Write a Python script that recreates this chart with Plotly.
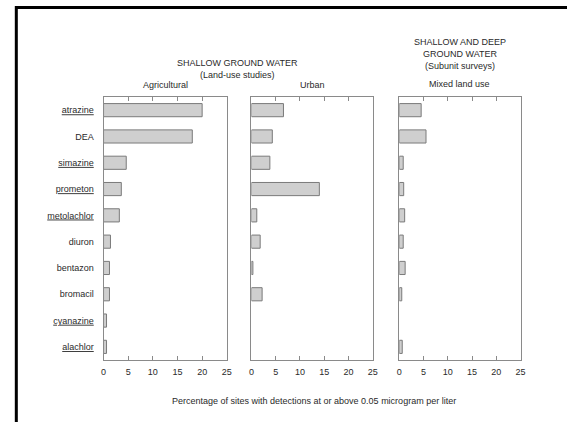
import plotly.graph_objects as go

W, H = 567, 422

categories = ["atrazine", "DEA", "simazine", "prometon", "metolachlor",
              "diuron", "bentazon", "bromacil", "cyanazine", "alachlor"]
underlined = [True, False, True, True, True, False, False, False, True, True]
agricultural = [20.0, 18.0, 4.6, 3.6, 3.2, 1.4, 1.2, 1.2, 0.6, 0.6]
urban = [6.6, 4.3, 3.8, 14.0, 1.1, 1.8, 0.3, 2.2, 0.0, 0.0]
mixed = [4.5, 5.5, 0.8, 0.9, 1.1, 0.8, 1.2, 0.5, 0.0, 0.6]
x_ticks = [0, 5, 10, 15, 20, 25]

tick_text = [f"<u>{c}</u>" if u else c for c, u in zip(categories, underlined)]

FONT = "Liberation Sans, Arial, sans-serif"
TEXT = "#2a2a2a"
AXIS_GRAY = "#8a8a8a"
BAR_FILL = "#cfcfcf"
BAR_LINE = "#7a7a7a"

def px_x(p):
    return p / W

def px_y(p):
    return 1 - p / H

domains = [(102, 227), (252, 375), (402, 525)]
ydom = [px_y(360), px_y(97)]

fig = go.Figure()
series = [agricultural, urban, mixed]
for i, vals in enumerate(series):
    suffix = "" if i == 0 else str(i + 1)
    shown = [v if v > 0 else None for v in vals]
    fig.add_trace(go.Bar(
        x=shown, y=categories, orientation="h", width=0.5,
        marker=dict(color=BAR_FILL, line=dict(color=BAR_LINE, width=1)),
        xaxis="x" + suffix, yaxis="y" + suffix, showlegend=False,
        hoverinfo="x+y",
    ))

layout = dict(
    width=W, height=H,
    margin=dict(l=0, r=0, t=0, b=0),
    paper_bgcolor="white", plot_bgcolor="white",
    font=dict(family=FONT, size=9, color=TEXT),
)
for i, (a, b) in enumerate(domains):
    suffix = "" if i == 0 else str(i + 1)
    layout["xaxis" + suffix] = dict(
        domain=[px_x(a), px_x(b)], range=[0, 25], anchor="y" + suffix,
        tickvals=x_ticks, ticks="inside", ticklen=4, tickcolor=AXIS_GRAY,
        tickwidth=1, showline=True, linecolor=AXIS_GRAY, linewidth=1,
        mirror="ticks", showgrid=False, zeroline=False,
        ticklabelstandoff=3,
        tickfont=dict(family=FONT, size=9, color=TEXT),
        fixedrange=True,
    )
    ya = dict(
        domain=ydom, anchor="x" + suffix, type="category",
        categoryorder="array", categoryarray=categories,
        autorange="reversed", showline=True, linecolor=AXIS_GRAY,
        linewidth=1, mirror=True, showgrid=False, zeroline=False,
        ticks="", fixedrange=True,
    )
    if i == 0:
        ya.update(tickvals=categories, ticktext=tick_text, showticklabels=True,
                  ticklabelstandoff=7,
                  tickfont=dict(family=FONT, size=9, color=TEXT))
    else:
        ya.update(showticklabels=False, matches="y")
    layout["yaxis" + suffix] = ya

fig.update_layout(**layout)

def ann(text, xc, yc, size=9):
    fig.add_annotation(text=text, x=px_x(xc), y=px_y(yc), xref="paper",
                       yref="paper", xanchor="center", yanchor="middle",
                       showarrow=False,
                       font=dict(family=FONT, size=size, color=TEXT))

ann("SHALLOW GROUND WATER", 238, 63)
ann("(Land-use studies)", 238, 75)
ann("SHALLOW AND DEEP", 464, 42)
ann("GROUND WATER", 464, 53.5)
ann("(Subunit surveys)", 464, 65.5)
ann("Agricultural", 164.5, 85)
ann("Urban", 313.5, 85)
ann("Mixed land use", 463.5, 84)
ann("Percentage of sites with detections at or above 0.05 microgram per liter",
    315, 400.5)

fig.add_shape(type="rect", xref="paper", yref="paper",
              x0=px_x(13.5), x1=1.2, y0=-0.2, y1=px_y(7.5),
              line=dict(color="black", width=3), fillcolor="rgba(0,0,0,0)",
              layer="above")

fig.write_html("out.html")
